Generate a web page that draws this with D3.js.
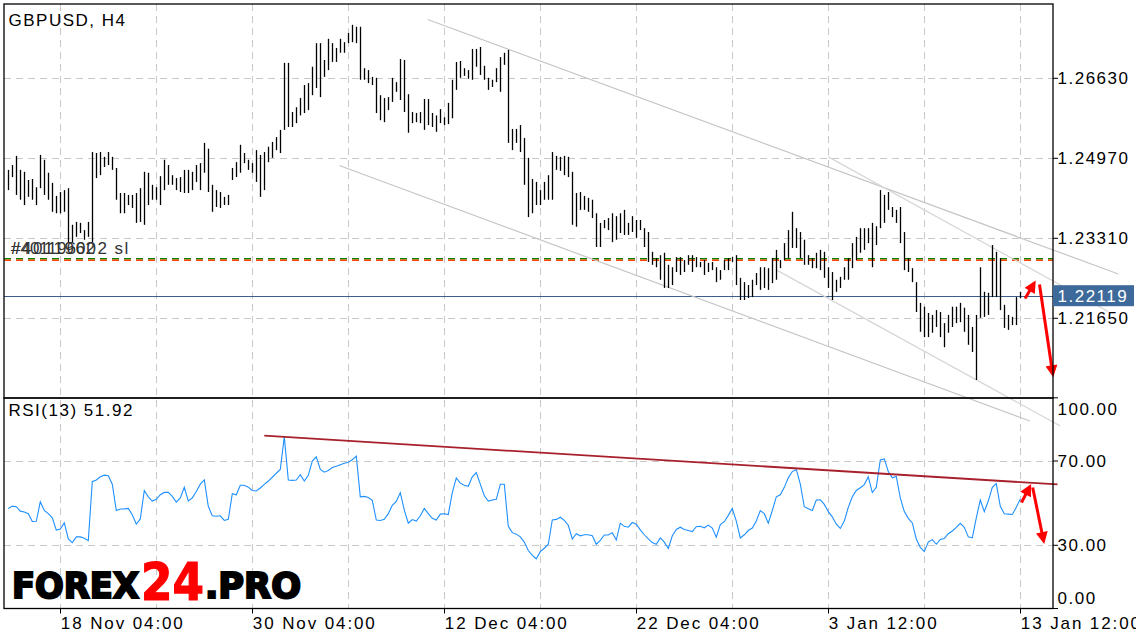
<!DOCTYPE html>
<html><head><meta charset="utf-8">
<script src="https://cdn.jsdelivr.net/npm/d3@7"></script>
<style>
body{margin:0;background:#fff;}
svg text{font-family:"Liberation Sans",Arial,Helvetica,sans-serif;}
</style>
</head><body>
<svg id="c" width="1136" height="640"></svg>
<script>
// ---------------- DATA ----------------
const symbolTitle = "GBPUSD, H4";
const rsiTitle = "RSI(13) 51.92";
const orderLabel = "#40119602 sl";
const orderLabel2 = "#40119602";

const high = [
1.2473,1.2483,1.2502,1.2473,1.2469,1.2452,1.2454,1.2437,1.2504,1.2494,
1.2467,1.2446,1.2419,1.2427,1.2431,1.2435,1.2359,1.2365,1.2363,1.2348,
1.2365,1.2510,1.2508,1.2510,1.2500,1.2510,1.2500,1.2477,1.2425,1.2425,
1.2421,1.2421,1.2425,1.2435,1.2469,1.2467,1.2442,1.2437,1.2460,1.2494,
1.2483,1.2462,1.2456,1.2458,1.2473,1.2473,1.2469,1.2483,1.2487,1.2529,
1.2517,1.2442,1.2431,1.2427,1.2417,1.2421,1.2477,1.2489,1.2525,1.2508,
1.2494,1.2487,1.2514,1.2504,1.2510,1.2521,1.2531,1.2541,1.2556,1.2695,
1.2695,1.2593,1.2603,1.2622,1.2649,1.2653,1.2687,1.2736,1.2736,1.2701,
1.2745,1.2736,1.2726,1.2745,1.2738,1.2757,1.2774,1.2770,1.2770,1.2684,
1.2680,1.2666,1.2664,1.2628,1.2622,1.2624,1.2664,1.2655,1.2703,1.2701,
1.2630,1.2593,1.2591,1.2593,1.2620,1.2620,1.2591,1.2586,1.2599,1.2582,
1.2612,1.2660,1.2697,1.2699,1.2684,1.2680,1.2724,1.2724,1.2728,1.2689,
1.2664,1.2660,1.2684,1.2707,1.2716,1.2722,1.2558,1.2558,1.2566,1.2539,
1.2498,1.2454,1.2448,1.2431,1.2448,1.2462,1.2510,1.2502,1.2500,1.2502,
1.2500,1.2469,1.2425,1.2427,1.2419,1.2415,1.2411,1.2383,1.2363,1.2369,
1.2373,1.2383,1.2377,1.2383,1.2390,1.2363,1.2377,1.2369,1.2369,1.2352,
1.2344,1.2303,1.2290,1.2296,1.2301,1.2276,1.2271,1.2292,1.2292,1.2286,
1.2296,1.2296,1.2292,1.2282,1.2286,1.2280,1.2282,1.2271,1.2265,1.2286,
1.2290,1.2292,1.2296,1.2249,1.2240,1.2234,1.2245,1.2259,1.2271,1.2271,
1.2269,1.2290,1.2307,1.2286,1.2321,1.2348,1.2386,1.2352,1.2344,1.2328,
1.2296,1.2290,1.2301,1.2307,1.2303,1.2271,1.2261,1.2245,1.2251,1.2271,
1.2290,1.2321,1.2334,1.2352,1.2352,1.2352,1.2363,1.2356,1.2431,1.2421,
1.2427,1.2396,1.2390,1.2396,1.2344,1.2290,1.2269,1.2240,1.2197,1.2189,
1.2176,1.2172,1.2182,1.2178,1.2155,1.2172,1.2189,1.2189,1.2197,1.2187,
1.2172,1.2147,1.2172,1.2271,1.2220,1.2218,1.2317,1.2303,1.2290,1.2193,
1.2172,1.2168,1.2209,1.2220
];
const low = [
1.2431,1.2458,1.2421,1.2411,1.2400,1.2417,1.2411,1.2400,1.2435,1.2421,
1.2411,1.2386,1.2383,1.2383,1.2386,1.2321,1.2323,1.2334,1.2342,1.2328,
1.2334,1.2323,1.2456,1.2462,1.2479,1.2483,1.2473,1.2411,1.2383,1.2383,
1.2400,1.2394,1.2363,1.2365,1.2359,1.2400,1.2411,1.2411,1.2400,1.2431,
1.2442,1.2442,1.2431,1.2427,1.2425,1.2425,1.2431,1.2448,1.2431,1.2467,
1.2427,1.2386,1.2396,1.2394,1.2400,1.2400,1.2452,1.2458,1.2467,1.2487,
1.2473,1.2467,1.2448,1.2417,1.2431,1.2489,1.2498,1.2514,1.2508,1.2556,
1.2562,1.2562,1.2570,1.2586,1.2591,1.2597,1.2628,1.2643,1.2624,1.2666,
1.2680,1.2697,1.2697,1.2716,1.2716,1.2736,1.2738,1.2736,1.2660,1.2660,
1.2653,1.2649,1.2591,1.2576,1.2572,1.2597,1.2614,1.2635,1.2618,1.2593,
1.2550,1.2570,1.2572,1.2570,1.2556,1.2566,1.2562,1.2552,1.2570,1.2566,
1.2568,1.2580,1.2639,1.2664,1.2668,1.2662,1.2660,1.2687,1.2670,1.2660,
1.2639,1.2645,1.2655,1.2635,1.2691,1.2529,1.2514,1.2529,1.2510,1.2442,
1.2375,1.2383,1.2400,1.2400,1.2411,1.2411,1.2411,1.2473,1.2471,1.2462,
1.2458,1.2359,1.2355,1.2390,1.2390,1.2386,1.2373,1.2313,1.2313,1.2352,
1.2348,1.2323,1.2328,1.2342,1.2338,1.2338,1.2344,1.2332,1.2348,1.2313,
1.2282,1.2276,1.2271,1.2245,1.2228,1.2228,1.2234,1.2261,1.2255,1.2261,
1.2276,1.2261,1.2271,1.2271,1.2255,1.2261,1.2265,1.2240,1.2245,1.2265,
1.2265,1.2282,1.2234,1.2203,1.2203,1.2207,1.2209,1.2234,1.2224,1.2228,
1.2224,1.2238,1.2245,1.2269,1.2286,1.2290,1.2311,1.2311,1.2290,1.2276,
1.2276,1.2269,1.2269,1.2265,1.2249,1.2228,1.2203,1.2220,1.2228,1.2245,
1.2245,1.2269,1.2286,1.2301,1.2307,1.2321,1.2271,1.2317,1.2352,1.2363,
1.2390,1.2375,1.2363,1.2321,1.2265,1.2261,1.2240,1.2178,1.2137,1.2126,
1.2126,1.2135,1.2147,1.2126,1.2105,1.2135,1.2147,1.2155,1.2157,1.2137,
1.2110,1.2095,1.2037,1.2166,1.2168,1.2172,1.2209,1.2209,1.2182,1.2145,
1.2141,1.2151,1.2151,1.2207
];
const rsi = [
47.5,48.6,48.3,46.2,45.8,45.0,41.3,41.4,50.7,46.5,
45.0,43.0,37.2,37.7,40.6,33.0,31.2,34.0,34.0,33.3,
32.2,60.2,61.0,62.5,63.3,63.0,59.0,46.5,47.2,47.3,
47.5,44.5,40.0,42.5,56.0,53.0,51.0,51.8,54.0,55.1,
55.1,53.2,50.5,52.5,57.5,51.0,52.5,55.5,59.0,61.0,
48.5,44.0,43.8,44.0,41.8,42.3,54.5,54.0,58.5,58.5,
57.6,56.0,55.8,57.2,58.9,60.5,62.3,64.2,66.0,81.5,
61.0,60.8,61.0,63.5,60.5,63.2,70.0,72.0,66.0,64.7,
65.5,66.9,67.5,68.2,68.9,69.4,70.6,72.3,53.0,53.2,
52.7,51.3,42.0,41.8,42.3,45.0,49.0,50.8,55.0,46.7,
40.5,42.2,41.5,44.0,47.5,45.0,42.8,42.0,44.8,45.0,
44.6,55.0,62.0,59.5,58.5,58.0,62.5,64.5,59.0,53.5,
51.0,51.5,51.8,59.0,59.0,39.0,36.0,35.3,34.0,31.5,
27.5,25.2,23.6,27.0,28.6,30.5,42.0,42.3,43.3,41.8,
39.5,33.0,35.5,34.5,35.0,35.0,34.5,30.5,32.3,34.9,
34.9,36.0,32.5,40.5,39.0,38.6,40.8,40.0,37.3,35.0,
33.0,31.3,30.5,33.5,31.5,28.5,34.5,37.5,38.6,37.5,
37.0,36.5,38.8,39.0,38.3,39.6,38.2,33.8,39.8,41.2,
44.2,47.5,41.5,33.5,35.0,37.0,38.2,41.5,46.5,45.0,
40.5,46.5,53.0,54.0,57.5,62.0,65.0,66.0,59.0,48.3,
47.3,46.5,51.5,51.6,49.4,46.0,43.5,40.0,38.0,41.5,
48.0,53.0,56.0,57.3,58.8,62.5,55.0,57.5,70.5,71.0,
65.0,62.0,62.7,52.5,46.0,42.8,40.6,33.0,29.0,27.0,
31.5,32.7,30.5,32.8,33.2,35.5,36.8,38.5,40.4,38.5,
34.0,33.5,43.0,51.5,46.0,51.0,57.5,59.3,48.5,45.0,
44.8,44.6,48.0,51.92
];

const priceTicks = [1.26630, 1.24970, 1.23310, 1.21650];
const priceDomain = [1.19996, 1.28172];
const lastPrice = 1.22119;
const slPrice = 1.22887;
const tpPrice = 1.22853;
const rsiTicks = [100, 70, 30, 0];
const rsiGrid = [70, 30];
const timeLabels = ["18 Nov 04:00", "30 Nov 04:00", "12 Dec 04:00", "22 Dec 04:00", "3 Jan 12:00", "13 Jan 12:00"];
const timeLabelBars = [13, 61, 109, 157, 205, 253];
const gridBars = [13, 37, 61, 85, 109, 133, 157, 181, 205, 229, 253];

// trend lines: [barIndex, price]
const priceTrendLines = [
  {p: [[104.85, 1.2785], [277.5, 1.2257]], c: "#c6c6c6"},
  {p: [[82.75, 1.2482], [255.4, 1.1952]], c: "#c6c6c6"},
  {p: [[205.0, 1.2500], [275.0, 1.2179]], c: "#d6d6d6"},
  {p: [[192.1, 1.2265], [262.9, 1.1942]], c: "#d6d6d6"}
];
const rsiTrendLine = [[64.0, 82.0], [262.3, 58.9]];
const priceArrows = [
  [[254.2, 1.2206], [256.4, 1.2237]],
  [[257.8, 1.2235], [261.1, 1.2050]]
];
const rsiArrows = [
  [[253.3, 50.3], [255.3, 57.6]],
  [[256.1, 57.4], [258.8, 32.3]]
];

// ---------------- LAYOUT ----------------
const L = 4, R = 1053, T = 4, MID = 398, B = 608.5;
const svg = d3.select("#c");
const x = d3.scaleLinear().domain([0, 253]).range([8.3, 1020.3]);
const y = d3.scaleLinear().domain(priceDomain).range([MID, T]);
const yr = d3.scaleLinear().domain([0, 100]).range([B, 397.8]);
const gridColor = "#c8c8c8";
const FS = 17, LS = 1.5;

// grid
const g = svg.append("g");
g.selectAll(".vg").data(gridBars).join("line")
  .attr("x1", d => Math.round(x(d)) + 0.5).attr("x2", d => Math.round(x(d)) + 0.5)
  .attr("y1", T).attr("y2", B)
  .attr("stroke", gridColor).attr("stroke-dasharray", "7,5");
g.selectAll(".hg").data(priceTicks).join("line")
  .attr("x1", L).attr("x2", R)
  .attr("y1", d => Math.round(y(d)) + 0.5).attr("y2", d => Math.round(y(d)) + 0.5)
  .attr("stroke", gridColor).attr("stroke-dasharray", "7,5");
g.selectAll(".rg").data(rsiGrid).join("line")
  .attr("x1", L).attr("x2", R)
  .attr("y1", d => Math.round(yr(d)) + 0.5).attr("y2", d => Math.round(yr(d)) + 0.5)
  .attr("stroke", gridColor).attr("stroke-dasharray", "7,5");

// logo
const logo = svg.append("g");
logo.append("text").text("FOREX").attr("x", 12).attr("y", 598)
  .style("font-family", "'DejaVu Sans'").style("font-weight", "bold").style("font-size", "36px")
  .attr("textLength", 127).attr("lengthAdjust", "spacingAndGlyphs")
  .attr("fill", "#000").attr("stroke", "#000").attr("stroke-width", 2.2);
logo.append("text").text("24").attr("x", 141).attr("y", 599.5)
  .style("font-family", "'DejaVu Sans'").style("font-weight", "bold").style("font-size", "51px")
  .attr("textLength", 63).attr("lengthAdjust", "spacingAndGlyphs")
  .attr("fill", "#ff0000").attr("stroke", "#ff0000").attr("stroke-width", 1.2);
logo.append("text").text(".PRO").attr("x", 205).attr("y", 598)
  .style("font-family", "'DejaVu Sans'").style("font-weight", "bold").style("font-size", "36px")
  .attr("textLength", 96).attr("lengthAdjust", "spacingAndGlyphs")
  .attr("fill", "#000").attr("stroke", "#000").attr("stroke-width", 2.2);

// level lines
svg.append("line").attr("x1", L).attr("x2", R).attr("y1", y(slPrice)).attr("y2", y(slPrice))
  .attr("stroke", "#008000").attr("stroke-width", 1.6).attr("stroke-dasharray", "7,5");
svg.append("line").attr("x1", L).attr("x2", R).attr("y1", y(tpPrice)).attr("y2", y(tpPrice))
  .attr("stroke", "#ff4500").attr("stroke-width", 1.6).attr("stroke-dasharray", "7,5");
svg.append("line").attr("x1", L).attr("x2", R).attr("y1", Math.round(y(lastPrice)) + 0.5).attr("y2", Math.round(y(lastPrice)) + 0.5)
  .attr("stroke", "#3b5e8c").attr("stroke-width", 1);

// trend lines
svg.selectAll(".tl").data(priceTrendLines).join("line")
  .attr("x1", d => x(d.p[0][0])).attr("y1", d => y(d.p[0][1]))
  .attr("x2", d => x(d.p[1][0])).attr("y2", d => y(d.p[1][1]))
  .attr("stroke", d => d.c).attr("stroke-width", 1.2);

// bars
svg.append("g").selectAll("line").data(d3.range(high.length)).join("line")
  .attr("x1", i => Math.round(x(i)) + 0.5).attr("x2", i => Math.round(x(i)) + 0.5)
  .attr("y1", i => y(high[i])).attr("y2", i => y(low[i]))
  .attr("stroke", "#000").attr("stroke-width", 1.3);

// RSI line
svg.append("path").datum(rsi)
  .attr("d", d3.line().x((d, i) => x(i)).y(d => yr(d)))
  .attr("fill", "none").attr("stroke", "#1e90ff").attr("stroke-width", 1.1);
svg.append("line")
  .attr("x1", x(rsiTrendLine[0][0])).attr("y1", yr(rsiTrendLine[0][1]))
  .attr("x2", x(rsiTrendLine[1][0])).attr("y2", yr(rsiTrendLine[1][1]))
  .attr("stroke", "#a8202c").attr("stroke-width", 1.8);

// arrows
const defs = svg.append("defs");
defs.append("marker").attr("id", "ah").attr("viewBox", "0 0 10 10")
  .attr("refX", 7).attr("refY", 5).attr("markerUnits", "userSpaceOnUse")
  .attr("markerWidth", 13).attr("markerHeight", 12).attr("orient", "auto")
  .append("path").attr("d", "M0,0 L10,5 L0,10 z").attr("fill", "#ff0000");
function drawArrows(data, ys) {
  svg.selectAll(null).data(data).join("line")
    .attr("x1", d => x(d[0][0])).attr("y1", d => ys(d[0][1]))
    .attr("x2", d => x(d[1][0])).attr("y2", d => ys(d[1][1]))
    .attr("stroke", "#ff0000").attr("stroke-width", 3)
    .attr("marker-end", "url(#ah)");
}
drawArrows(priceArrows, y);
drawArrows(rsiArrows, yr);

// frames
svg.append("rect").attr("x", L).attr("y", T).attr("width", R - L).attr("height", MID - T)
  .attr("fill", "none").attr("stroke", "#000").attr("stroke-width", 1.3);
svg.append("rect").attr("x", L).attr("y", MID).attr("width", R - L).attr("height", B - MID)
  .attr("fill", "none").attr("stroke", "#000").attr("stroke-width", 1.3);

// right axis: price
svg.selectAll(".pt").data(priceTicks).join("line")
  .attr("x1", R).attr("x2", R + 5).attr("y1", d => y(d)).attr("y2", d => y(d)).attr("stroke", "#000");
svg.selectAll(".pl").data(priceTicks).join("text")
  .attr("x", 1057.5).attr("y", d => y(d)).attr("dy", "0.36em")
  .attr("font-size", FS).attr("letter-spacing", LS).attr("fill", "#000")
  .text(d => d.toFixed(5));
// last price box
svg.append("rect").attr("x", R).attr("y", y(lastPrice) - 10.5).attr("width", 81).attr("height", 21)
  .attr("fill", "#3d6a9a");
svg.append("text").attr("x", 1057.5).attr("y", y(lastPrice)).attr("dy", "0.36em")
  .attr("font-size", FS).attr("letter-spacing", LS).attr("fill", "#fff").text(lastPrice.toFixed(5));

// right axis: rsi
svg.selectAll(".rt").data(rsiTicks).join("line")
  .attr("x1", R).attr("x2", R + 5).attr("y1", d => yr(d)).attr("y2", d => yr(d)).attr("stroke", "#000");
svg.selectAll(".rl").data(rsiTicks).join("text")
  .attr("x", 1057.5).attr("y", d => yr(d) + (d === 100 ? 11.5 : d === 0 ? -11 : 0)).attr("dy", "0.36em")
  .attr("font-size", FS).attr("letter-spacing", LS).attr("fill", "#000")
  .text(d => d.toFixed(2));

// bottom axis
svg.selectAll(".xt").data(timeLabelBars).join("line")
  .attr("x1", d => Math.round(x(d)) + 0.5).attr("x2", d => Math.round(x(d)) + 0.5)
  .attr("y1", B).attr("y2", B + 5).attr("stroke", "#000");
svg.selectAll(".xl").data(timeLabels).join("text")
  .attr("x", (d, i) => x(timeLabelBars[i]) + 0.5).attr("y", 628.5)
  .attr("font-size", FS).attr("letter-spacing", 1.9).attr("fill", "#000")
  .text(d => d);

// titles
svg.append("text").attr("x", 8.5).attr("y", 26).attr("font-size", FS).attr("letter-spacing", LS)
  .attr("fill", "#000").text(symbolTitle);
svg.append("text").attr("x", 8.5).attr("y", 415.5).attr("font-size", FS).attr("letter-spacing", LS)
  .attr("fill", "#000").text(rsiTitle);
svg.append("text").attr("x", 11).attr("y", 254).attr("font-size", FS).attr("letter-spacing", LS)
  .attr("fill", "#333").text(orderLabel);
svg.append("text").attr("x", 11).attr("y", 254).attr("font-size", FS).attr("letter-spacing", 0)
  .attr("fill", "#333").text(orderLabel2);
</script>
</body></html>
